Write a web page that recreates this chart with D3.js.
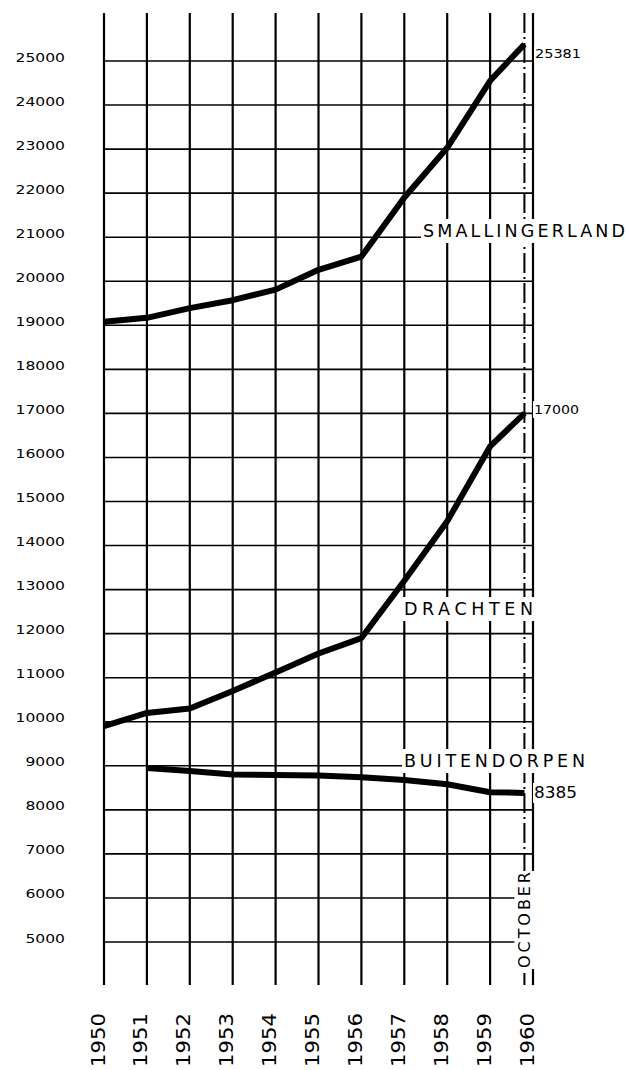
<!DOCTYPE html>
<html>
<head>
<meta charset="utf-8">
<script src="https://cdn.jsdelivr.net/npm/d3@7"></script>
<style>
  html, body { margin: 0; padding: 0; background: #fff; }
  svg { display: block; }
</style>
</head>
<body>
<svg id="chart" width="627" height="1070"></svg>
<script>
// Population 1950 – October 1960
const yearTicks = [1950, 1951, 1952, 1953, 1954, 1955, 1956, 1957, 1958, 1959, 1960];
const yearLabels = ["1950", "1951", "1952", "1953", "1954", "1955", "1956", "1957", "1958", "1959", "1960"];
const valueTicks = [5000, 6000, 7000, 8000, 9000, 10000, 11000, 12000, 13000, 14000, 15000,
                    16000, 17000, 18000, 19000, 20000, 21000, 22000, 23000, 24000, 25000];
const valueLabels = valueTicks.map(String);

// last reading is October 1960
const october = 1959.8;
const smallingerlandYears = [1950, 1951, 1952, 1953, 1954, 1955, 1956, 1957, 1958, 1959, october];
const smallingerland = [19080, 19170, 19390, 19570, 19810, 20260, 20560, 21900, 23030, 24550, 25381];
const drachtenYears = [1950, 1951, 1952, 1953, 1954, 1955, 1956, 1957, 1958, 1959, october];
const drachten = [9900, 10200, 10300, 10700, 11120, 11550, 11900, 13200, 14550, 16250, 17000];
const buitendorpenYears = [1951, 1952, 1953, 1954, 1955, 1956, 1957, 1958, 1959, october];
const buitendorpen = [8950, 8880, 8800, 8790, 8780, 8740, 8680, 8580, 8400, 8385];

const seriesNames = ["SMALLINGERLAND", "DRACHTEN", "BUITENDORPEN"];
const endLabels = ["25381", "17000", "8385"];

const FONT = "'DejaVu Sans', sans-serif";
const svg = d3.select("#chart");

const x = d3.scaleLinear().domain([1950, 1960]).range([104, 533]);
const y = d3.scaleLinear().domain([5000, 25000]).range([942, 61]);

const gridTop = 13, gridBottom = 985;

// grid
const grid = svg.append("g").attr("stroke", "#000").attr("fill", "none");
grid.selectAll("line.v").data(yearTicks).join("line")
  .attr("class", "v")
  .attr("x1", d => x(d)).attr("x2", d => x(d))
  .attr("y1", gridTop).attr("y2", gridBottom)
  .attr("stroke-width", 2.2);
grid.selectAll("line.h").data(valueTicks).join("line")
  .attr("class", "h")
  .attr("x1", x(1950) - 1).attr("x2", x(1960) + 1)
  .attr("y1", d => y(d)).attr("y2", d => y(d))
  .attr("stroke-width", 1.6);
// October reference line
grid.append("line")
  .attr("x1", x(october)).attr("x2", x(october))
  .attr("y1", gridTop).attr("y2", gridBottom)
  .attr("stroke-width", 2)
  .attr("stroke-dasharray", "20,4,2,4");

// y axis labels
const yAxis = d3.axisLeft(y).tickValues(valueTicks)
  .tickFormat((d, i) => valueLabels[i]).tickSize(0).tickPadding(0);
const gy = svg.append("g").attr("transform", "translate(65,0)").call(yAxis);
gy.select(".domain").remove();
gy.selectAll("text")
  .attr("font-family", FONT).attr("font-size", 11.5).attr("fill", "#000")
  .attr("dy", 0).attr("y", 0)
  .attr("textLength", function () { return this.textContent.length * 9.9; })
  .attr("lengthAdjust", "spacingAndGlyphs");

// x axis labels, vertical
const xAxis = d3.axisBottom(x).tickValues(yearTicks)
  .tickFormat((d, i) => yearLabels[i]).tickSize(0).tickPadding(0);
const gx = svg.append("g").attr("transform", "translate(0,1013)").call(xAxis);
gx.select(".domain").remove();
gx.selectAll("text")
  .attr("font-family", FONT).attr("font-size", 20).attr("fill", "#000")
  .attr("x", 0).attr("y", 0).attr("dy", 0)
  .attr("transform", "rotate(-90)")
  .attr("text-anchor", "end")
  .attr("textLength", 54)
  .attr("lengthAdjust", "spacingAndGlyphs");

// labels with a white ground that interrupts the grid
function boxedText(g, opts) {
  const t = g.append("text")
    .attr("font-family", FONT).attr("font-size", opts.size).attr("fill", "#000")
    .attr("x", opts.x).attr("y", opts.y)
    .attr("textLength", opts.len)
    .attr("lengthAdjust", opts.adjust || "spacing")
    .text(opts.text);
  if (opts.rotate) t.attr("transform", `rotate(-90,${opts.x},${opts.y})`);
  const b = t.node().getBBox();
  const p = opts.pad || 2;
  let r;
  if (opts.rotate) {
    // bbox is in the unrotated frame; map it to the rotated one
    const cx = opts.x, cy = opts.y;
    r = { x: cx + (b.y - cy), y: cy - (b.x - cx) - b.width, w: b.height, h: b.width };
  } else {
    r = { x: b.x, y: b.y, w: b.width, h: b.height };
  }
  g.insert("rect", () => t.node())
    .attr("x", r.x - p).attr("y", r.y - p)
    .attr("width", r.w + 2 * p).attr("height", r.h + 2 * p)
    .attr("fill", "#fff");
}

const labels = svg.append("g");
boxedText(labels, { text: seriesNames[0], x: 423, y: 237, size: 17.5, len: 202 });
boxedText(labels, { text: seriesNames[1], x: 404, y: 615, size: 17.5, len: 129 });
boxedText(labels, { text: seriesNames[2], x: 404, y: 767, size: 17.5, len: 181 });
boxedText(labels, { text: "OCTOBER", x: x(october) + 6, y: 968, size: 16, len: 96, rotate: true, pad: 1 });

boxedText(labels, { text: endLabels[0], x: x(1960) + 2, y: 58, size: 12, len: 46, adjust: "spacingAndGlyphs", pad: 1 });
boxedText(labels, { text: endLabels[1], x: x(1960) + 1, y: 414, size: 12.5, len: 45, adjust: "spacingAndGlyphs", pad: 1 });
boxedText(labels, { text: endLabels[2], x: x(1960) + 1, y: 798, size: 15.5, len: 43, adjust: "spacingAndGlyphs", pad: 1 });

// series lines
const line = d3.line().x(d => x(d[0])).y(d => y(d[1]));
const series = [
  d3.zip(smallingerlandYears, smallingerland),
  d3.zip(drachtenYears, drachten),
  d3.zip(buitendorpenYears, buitendorpen)
];
svg.append("g").selectAll("path").data(series).join("path")
  .attr("d", line)
  .attr("fill", "none")
  .attr("stroke", "#000")
  .attr("stroke-width", 6)
  .attr("stroke-linejoin", "round")
  .attr("stroke-linecap", "butt");
</script>
</body>
</html>
